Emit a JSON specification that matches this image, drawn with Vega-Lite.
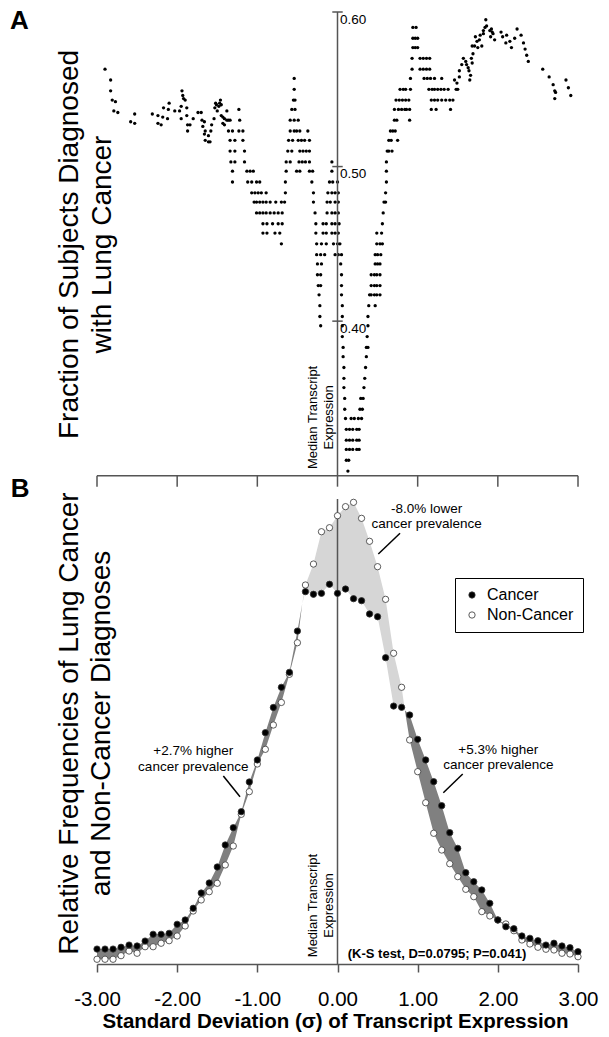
{
  "$schema": "https://vega.github.io/schema/vega-lite/v6.json",
  "width": 481,
  "height": 952,
  "autosize": {"type": "none"},
  "padding": {"left": 97, "top": 12, "right": 31, "bottom": 73},
  "background": "white",
  "config": {
    "font": "Liberation Sans",
    "view": {"stroke": null},
    "axis": {"grid": false}
  },
  "datasets": {
    "A": [
      {"x":-2.90,"f":0.563},{"x":-2.83,"f":0.556},{"x":-2.83,"f":0.549},{"x":-2.81,"f":0.543},{"x":-2.77,"f":0.542},{"x":-2.79,"f":0.536},{"x":-2.74,"f":0.535},{"x":-2.58,"f":0.529},{"x":-2.53,"f":0.528},{"x":-2.53,"f":0.534},
      {"x":-2.31,"f":0.534},{"x":-2.24,"f":0.533},{"x":-2.18,"f":0.532},{"x":-2.12,"f":0.531},{"x":-2.24,"f":0.528},{"x":-2.20,"f":0.527},{"x":-2.17,"f":0.538},{"x":-2.11,"f":0.537},{"x":-2.10,"f":0.541},{"x":-2.03,"f":0.536},
      {"x":-1.97,"f":0.536},{"x":-1.95,"f":0.539},{"x":-1.94,"f":0.549},{"x":-1.93,"f":0.546},{"x":-1.92,"f":0.544},{"x":-1.90,"f":0.543},{"x":-1.95,"f":0.531},{"x":-1.88,"f":0.533},{"x":-1.88,"f":0.538},{"x":-1.87,"f":0.527},
      {"x":-1.84,"f":0.527},{"x":-1.87,"f":0.523},{"x":-1.80,"f":0.531},{"x":-1.74,"f":0.535},{"x":-1.70,"f":0.535},{"x":-1.69,"f":0.530},{"x":-1.66,"f":0.529},{"x":-1.68,"f":0.526},{"x":-1.65,"f":0.523},{"x":-1.66,"f":0.521},
      {"x":-1.61,"f":0.520},{"x":-1.65,"f":0.517},{"x":-1.61,"f":0.516},{"x":-1.59,"f":0.516},{"x":-1.57,"f":0.527},{"x":-1.58,"f":0.523},{"x":-1.54,"f":0.531},{"x":-1.53,"f":0.538},{"x":-1.52,"f":0.541},{"x":-1.51,"f":0.540},
      {"x":-1.48,"f":0.539},{"x":-1.50,"f":0.536},{"x":-1.46,"f":0.543},{"x":-1.47,"f":0.541},{"x":-1.45,"f":0.540},{"x":-1.45,"f":0.533},{"x":-1.43,"f":0.532},{"x":-1.41,"f":0.531},{"x":-1.38,"f":0.530},{"x":-1.36,"f":0.530},
      {"x":-1.43,"f":0.528},{"x":-1.41,"f":0.527},{"x":-1.38,"f":0.536},
      {"x":-1.23,"f":0.537},
      {"x":-1.34,"f":0.530},{"x":-1.22,"f":0.530},
      {"x":-1.36,"f":0.523},{"x":-1.31,"f":0.523},{"x":-1.23,"f":0.523},{"x":-1.18,"f":0.523},
      {"x":-1.34,"f":0.517},{"x":-1.28,"f":0.517},{"x":-1.18,"f":0.517},
      {"x":-1.34,"f":0.510},{"x":-1.28,"f":0.510},{"x":-1.16,"f":0.510},
      {"x":-1.33,"f":0.503},{"x":-1.28,"f":0.503},{"x":-1.16,"f":0.503},
      {"x":-1.31,"f":0.497},{"x":-1.13,"f":0.497},{"x":-1.09,"f":0.497},{"x":-1.05,"f":0.497},
      {"x":-1.31,"f":0.490},{"x":-1.12,"f":0.490},{"x":-1.07,"f":0.490},{"x":-1.01,"f":0.490},{"x":-0.97,"f":0.490},
      {"x":-1.07,"f":0.483},{"x":-1.03,"f":0.483},{"x":-0.99,"f":0.483},{"x":-0.95,"f":0.483},{"x":-0.89,"f":0.483},
      {"x":-1.04,"f":0.477},{"x":-1.01,"f":0.477},{"x":-0.97,"f":0.477},{"x":-0.93,"f":0.477},{"x":-0.89,"f":0.477},{"x":-0.84,"f":0.477},{"x":-0.77,"f":0.477},{"x":-0.70,"f":0.477},{"x":-0.66,"f":0.477},
      {"x":-1.01,"f":0.470},{"x":-0.97,"f":0.470},{"x":-0.93,"f":0.470},{"x":-0.89,"f":0.470},{"x":-0.84,"f":0.470},{"x":-0.79,"f":0.470},{"x":-0.74,"f":0.470},{"x":-0.69,"f":0.470},
      {"x":-0.93,"f":0.463},{"x":-0.88,"f":0.463},{"x":-0.81,"f":0.463},{"x":-0.74,"f":0.463},{"x":-0.69,"f":0.463},
      {"x":-0.93,"f":0.457},{"x":-0.88,"f":0.457},{"x":-0.78,"f":0.457},{"x":-0.72,"f":0.457},
      {"x":-0.70,"f":0.450},
      {"x":-0.54,"f":0.557},{"x":-0.54,"f":0.550},{"x":-0.55,"f":0.543},{"x":-0.53,"f":0.543},{"x":-0.57,"f":0.537},{"x":-0.53,"f":0.537},
      {"x":-0.59,"f":0.530},{"x":-0.54,"f":0.530},{"x":-0.49,"f":0.530},
      {"x":-0.59,"f":0.523},{"x":-0.54,"f":0.523},{"x":-0.51,"f":0.523},{"x":-0.47,"f":0.523},{"x":-0.37,"f":0.523},
      {"x":-0.61,"f":0.517},{"x":-0.56,"f":0.517},{"x":-0.49,"f":0.517},{"x":-0.45,"f":0.517},{"x":-0.41,"f":0.517},{"x":-0.35,"f":0.517},
      {"x":-0.62,"f":0.510},{"x":-0.57,"f":0.510},{"x":-0.47,"f":0.510},{"x":-0.43,"f":0.510},{"x":-0.39,"f":0.510},{"x":-0.35,"f":0.510},
      {"x":-0.64,"f":0.503},{"x":-0.59,"f":0.503},{"x":-0.48,"f":0.503},{"x":-0.44,"f":0.503},{"x":-0.40,"f":0.503},{"x":-0.35,"f":0.503},
      {"x":-0.64,"f":0.497},{"x":-0.51,"f":0.497},{"x":-0.47,"f":0.497},{"x":-0.35,"f":0.497},{"x":-0.31,"f":0.497},
      {"x":-0.65,"f":0.490},{"x":-0.32,"f":0.490},{"x":-0.65,"f":0.483},{"x":-0.30,"f":0.483},{"x":-0.30,"f":0.477},{"x":-0.28,"f":0.470},
      {"x":-0.27,"f":0.463},{"x":-0.18,"f":0.463},{"x":-0.14,"f":0.463},
      {"x":-0.27,"f":0.457},{"x":-0.18,"f":0.457},{"x":-0.14,"f":0.457},
      {"x":-0.26,"f":0.450},{"x":-0.20,"f":0.450},{"x":-0.14,"f":0.450},
      {"x":-0.26,"f":0.443},{"x":-0.21,"f":0.443},{"x":-0.16,"f":0.443},
      {"x":-0.25,"f":0.437},{"x":-0.20,"f":0.437},{"x":-0.25,"f":0.430},{"x":-0.21,"f":0.430},{"x":-0.24,"f":0.423},{"x":-0.21,"f":0.423},
      {"x":-0.23,"f":0.417},{"x":-0.22,"f":0.410},{"x":-0.22,"f":0.403},{"x":-0.21,"f":0.397},
      {"x":-0.07,"f":0.503},{"x":-0.07,"f":0.497},
      {"x":-0.10,"f":0.490},{"x":-0.06,"f":0.490},{"x":0.00,"f":0.490},
      {"x":-0.12,"f":0.483},{"x":-0.07,"f":0.483},{"x":-0.03,"f":0.483},{"x":0.01,"f":0.483},
      {"x":-0.13,"f":0.477},{"x":-0.09,"f":0.477},{"x":-0.03,"f":0.477},{"x":0.01,"f":0.477},
      {"x":-0.13,"f":0.470},{"x":-0.07,"f":0.470},{"x":-0.03,"f":0.470},{"x":0.01,"f":0.470},
      {"x":-0.07,"f":0.463},{"x":-0.03,"f":0.463},{"x":0.02,"f":0.463},
      {"x":-0.07,"f":0.457},{"x":-0.03,"f":0.457},{"x":0.01,"f":0.457},
      {"x":-0.05,"f":0.450},{"x":0.00,"f":0.450},{"x":0.03,"f":0.450},
      {"x":-0.03,"f":0.443},{"x":0.01,"f":0.443},{"x":0.05,"f":0.443},
      {"x":0.04,"f":0.437},
      {"x":0.05,"f":0.430},{"x":0.05,"f":0.423},{"x":0.05,"f":0.417},{"x":0.06,"f":0.410},{"x":0.06,"f":0.403},{"x":0.06,"f":0.397},{"x":0.06,"f":0.390},
      {"x":0.07,"f":0.383},{"x":0.07,"f":0.377},{"x":0.08,"f":0.370},{"x":0.08,"f":0.363},{"x":0.08,"f":0.357},{"x":0.09,"f":0.350},{"x":0.09,"f":0.343},
      {"x":0.10,"f":0.337},{"x":0.17,"f":0.337},{"x":0.21,"f":0.337},{"x":0.26,"f":0.337},{"x":0.30,"f":0.337},
      {"x":0.11,"f":0.330},{"x":0.15,"f":0.330},{"x":0.19,"f":0.330},{"x":0.24,"f":0.330},{"x":0.27,"f":0.330},
      {"x":0.11,"f":0.323},{"x":0.15,"f":0.323},{"x":0.19,"f":0.323},{"x":0.24,"f":0.323},{"x":0.27,"f":0.323},
      {"x":0.11,"f":0.317},{"x":0.15,"f":0.317},{"x":0.19,"f":0.317},{"x":0.24,"f":0.317},{"x":0.27,"f":0.317},
      {"x":0.11,"f":0.310},{"x":0.14,"f":0.310},{"x":0.13,"f":0.303},
      {"x":0.28,"f":0.343},{"x":0.31,"f":0.343},{"x":0.29,"f":0.350},{"x":0.32,"f":0.350},
      {"x":0.33,"f":0.357},{"x":0.34,"f":0.363},{"x":0.35,"f":0.370},{"x":0.36,"f":0.377},{"x":0.36,"f":0.383},{"x":0.38,"f":0.383},
      {"x":0.37,"f":0.390},{"x":0.38,"f":0.397},{"x":0.38,"f":0.403},{"x":0.39,"f":0.410},{"x":0.47,"f":0.410},
      {"x":0.40,"f":0.417},{"x":0.42,"f":0.417},{"x":0.46,"f":0.417},{"x":0.49,"f":0.417},{"x":0.53,"f":0.417},
      {"x":0.42,"f":0.423},{"x":0.46,"f":0.423},{"x":0.49,"f":0.423},{"x":0.53,"f":0.423},
      {"x":0.42,"f":0.430},{"x":0.46,"f":0.430},{"x":0.49,"f":0.430},{"x":0.53,"f":0.430},
      {"x":0.47,"f":0.437},{"x":0.50,"f":0.437},{"x":0.53,"f":0.437},
      {"x":0.47,"f":0.443},{"x":0.50,"f":0.443},{"x":0.54,"f":0.443},
      {"x":0.49,"f":0.450},{"x":0.53,"f":0.450},{"x":0.56,"f":0.450},
      {"x":0.49,"f":0.457},{"x":0.55,"f":0.457},{"x":0.56,"f":0.463},{"x":0.57,"f":0.470},{"x":0.58,"f":0.477},{"x":0.60,"f":0.477},
      {"x":0.60,"f":0.483},{"x":0.61,"f":0.490},{"x":0.61,"f":0.497},{"x":0.61,"f":0.503},
      {"x":0.62,"f":0.510},{"x":0.64,"f":0.510},{"x":0.68,"f":0.510},
      {"x":0.64,"f":0.517},{"x":0.67,"f":0.517},{"x":0.75,"f":0.517},
      {"x":0.66,"f":0.523},{"x":0.69,"f":0.523},{"x":0.72,"f":0.523},
      {"x":0.71,"f":0.530},{"x":0.74,"f":0.530},{"x":0.90,"f":0.530},
      {"x":0.71,"f":0.537},{"x":0.76,"f":0.537},{"x":0.80,"f":0.537},{"x":0.84,"f":0.537},{"x":0.86,"f":0.537},{"x":0.90,"f":0.537},{"x":1.17,"f":0.537},{"x":1.23,"f":0.537},{"x":1.41,"f":0.537},
      {"x":0.73,"f":0.543},{"x":0.77,"f":0.543},{"x":0.81,"f":0.543},{"x":0.85,"f":0.543},{"x":0.89,"f":0.543},{"x":1.17,"f":0.543},{"x":1.21,"f":0.543},{"x":1.25,"f":0.543},{"x":1.30,"f":0.543},{"x":1.35,"f":0.543},{"x":1.40,"f":0.543},{"x":1.44,"f":0.543},
      {"x":0.78,"f":0.550},{"x":0.82,"f":0.550},{"x":0.85,"f":0.550},{"x":0.91,"f":0.550},{"x":1.14,"f":0.550},{"x":1.18,"f":0.550},{"x":1.21,"f":0.550},{"x":1.25,"f":0.550},{"x":1.29,"f":0.550},{"x":1.33,"f":0.550},{"x":1.38,"f":0.550},
      {"x":0.91,"f":0.557},{"x":1.08,"f":0.557},{"x":1.12,"f":0.557},{"x":1.16,"f":0.557},{"x":1.21,"f":0.557},{"x":1.30,"f":0.557},
      {"x":0.93,"f":0.563},{"x":1.03,"f":0.563},{"x":1.07,"f":0.563},{"x":1.11,"f":0.563},{"x":1.15,"f":0.563},
      {"x":0.93,"f":0.570},{"x":1.03,"f":0.570},{"x":1.07,"f":0.570},{"x":1.11,"f":0.570},{"x":1.15,"f":0.570},
      {"x":0.94,"f":0.577},{"x":0.97,"f":0.577},{"x":1.00,"f":0.577},
      {"x":0.94,"f":0.583},{"x":0.97,"f":0.583},{"x":1.00,"f":0.583},
      {"x":0.94,"f":0.590},{"x":0.98,"f":0.590},
      {"x":1.46,"f":0.556},{"x":1.49,"f":0.554},{"x":1.52,"f":0.558},{"x":1.50,"f":0.550},{"x":1.48,"f":0.550},{"x":1.52,"f":0.562},{"x":1.55,"f":0.566},{"x":1.57,"f":0.570},{"x":1.60,"f":0.568},{"x":1.61,"f":0.566},
      {"x":1.63,"f":0.564},{"x":1.64,"f":0.562},{"x":1.66,"f":0.559},{"x":1.65,"f":0.556},{"x":1.67,"f":0.570},{"x":1.68,"f":0.567},{"x":1.69,"f":0.573},{"x":1.68,"f":0.578},{"x":1.71,"f":0.578},{"x":1.72,"f":0.584},
      {"x":1.74,"f":0.581},{"x":1.75,"f":0.577},{"x":1.77,"f":0.582},{"x":1.80,"f":0.578},{"x":1.78,"f":0.585},{"x":1.82,"f":0.588},{"x":1.82,"f":0.586},{"x":1.84,"f":0.590},{"x":1.85,"f":0.595},{"x":1.86,"f":0.591},
      {"x":1.90,"f":0.588},{"x":1.92,"f":0.589},{"x":1.93,"f":0.587},{"x":1.96,"f":0.582},{"x":1.91,"f":0.584},{"x":1.94,"f":0.586},{"x":2.04,"f":0.587},{"x":2.06,"f":0.584},{"x":2.11,"f":0.585},{"x":2.10,"f":0.580},
      {"x":2.15,"f":0.581},{"x":2.17,"f":0.577},{"x":2.21,"f":0.583},{"x":2.24,"f":0.589},{"x":2.29,"f":0.585},{"x":2.32,"f":0.580},{"x":2.34,"f":0.576},{"x":2.36,"f":0.572},{"x":2.38,"f":0.568},{"x":2.56,"f":0.563},
      {"x":2.64,"f":0.558},{"x":2.69,"f":0.553},{"x":2.71,"f":0.549},{"x":2.72,"f":0.548},{"x":2.71,"f":0.544},{"x":2.85,"f":0.556},{"x":2.88,"f":0.551},{"x":2.91,"f":0.546}
    ],
    "B": [
      {"x":-3.0,"Cancer":0.142,"Non-Cancer":0.045},{"x":-2.9,"Cancer":0.142,"Non-Cancer":0.045},{"x":-2.8,"Cancer":0.142,"Non-Cancer":0.045},
      {"x":-2.7,"Cancer":0.159,"Non-Cancer":0.079},{"x":-2.6,"Cancer":0.180,"Non-Cancer":0.123},{"x":-2.5,"Cancer":0.171,"Non-Cancer":0.102},
      {"x":-2.4,"Cancer":0.218,"Non-Cancer":0.164},{"x":-2.3,"Cancer":0.282,"Non-Cancer":0.164},{"x":-2.2,"Cancer":0.282,"Non-Cancer":0.197},
      {"x":-2.1,"Cancer":0.291,"Non-Cancer":0.221},{"x":-2.0,"Cancer":0.377,"Non-Cancer":0.266},{"x":-1.9,"Cancer":0.418,"Non-Cancer":0.361},
      {"x":-1.8,"Cancer":0.529,"Non-Cancer":0.503},{"x":-1.7,"Cancer":0.674,"Non-Cancer":0.608},{"x":-1.6,"Cancer":0.769,"Non-Cancer":0.686},
      {"x":-1.5,"Cancer":0.921,"Non-Cancer":0.766},{"x":-1.4,"Cancer":1.130,"Non-Cancer":0.940},{"x":-1.3,"Cancer":1.294,"Non-Cancer":1.120},
      {"x":-1.2,"Cancer":1.446,"Non-Cancer":1.421},{"x":-1.1,"Cancer":1.728,"Non-Cancer":1.636},{"x":-1.0,"Cancer":1.937,"Non-Cancer":1.899},
      {"x":-0.9,"Cancer":2.196,"Non-Cancer":2.038},{"x":-0.8,"Cancer":2.435,"Non-Cancer":2.269},{"x":-0.7,"Cancer":2.627,"Non-Cancer":2.483},
      {"x":-0.6,"Cancer":2.769,"Non-Cancer":2.750},{"x":-0.5,"Cancer":3.161,"Non-Cancer":3.050},{"x":-0.4,"Cancer":3.535,"Non-Cancer":3.598},
      {"x":-0.3,"Cancer":3.510,"Non-Cancer":3.797},{"x":-0.2,"Cancer":3.519,"Non-Cancer":4.104},{"x":-0.1,"Cancer":3.605,"Non-Cancer":4.142},
      {"x":0.0,"Cancer":3.519,"Non-Cancer":4.256},{"x":0.1,"Cancer":3.560,"Non-Cancer":4.342},{"x":0.2,"Cancer":3.468,"Non-Cancer":4.383},
      {"x":0.3,"Cancer":3.449,"Non-Cancer":4.231},{"x":0.4,"Cancer":3.323,"Non-Cancer":4.013},{"x":0.5,"Cancer":3.297,"Non-Cancer":3.772},
      {"x":0.6,"Cancer":2.908,"Non-Cancer":3.462},{"x":0.7,"Cancer":2.449,"Non-Cancer":2.950},{"x":0.8,"Cancer":2.437,"Non-Cancer":2.627},
      {"x":0.9,"Cancer":2.364,"Non-Cancer":2.127},{"x":1.0,"Cancer":2.133,"Non-Cancer":1.826},{"x":1.1,"Cancer":1.937,"Non-Cancer":1.531},
      {"x":1.2,"Cancer":1.731,"Non-Cancer":1.241},{"x":1.3,"Cancer":1.503,"Non-Cancer":1.082},{"x":1.4,"Cancer":1.247,"Non-Cancer":0.952},
      {"x":1.5,"Cancer":1.098,"Non-Cancer":0.829},{"x":1.6,"Cancer":0.867,"Non-Cancer":0.709},{"x":1.7,"Cancer":0.781,"Non-Cancer":0.639},
      {"x":1.8,"Cancer":0.703,"Non-Cancer":0.497},{"x":1.9,"Cancer":0.576,"Non-Cancer":0.456},{"x":2.0,"Cancer":0.418,"Non-Cancer":0.418},
      {"x":2.1,"Cancer":0.354,"Non-Cancer":0.380},{"x":2.2,"Cancer":0.335,"Non-Cancer":0.316},{"x":2.3,"Cancer":0.266,"Non-Cancer":0.228},
      {"x":2.4,"Cancer":0.244,"Non-Cancer":0.190},{"x":2.5,"Cancer":0.221,"Non-Cancer":0.159},{"x":2.6,"Cancer":0.180,"Non-Cancer":0.140},
      {"x":2.7,"Cancer":0.197,"Non-Cancer":0.133},{"x":2.8,"Cancer":0.171,"Non-Cancer":0.102},{"x":2.9,"Cancer":0.155,"Non-Cancer":0.095},
      {"x":3.0,"Cancer":0.117,"Non-Cancer":0.069}
    ],
    "band": [
      {"x":-3.0,"lo":0.045,"hi":0.142,"p":"L"},{"x":-2.9,"lo":0.045,"hi":0.142,"p":"L"},{"x":-2.8,"lo":0.045,"hi":0.142,"p":"L"},
      {"x":-2.7,"lo":0.079,"hi":0.159,"p":"L"},{"x":-2.6,"lo":0.123,"hi":0.180,"p":"L"},{"x":-2.5,"lo":0.102,"hi":0.171,"p":"L"},
      {"x":-2.4,"lo":0.164,"hi":0.218,"p":"L"},{"x":-2.3,"lo":0.164,"hi":0.282,"p":"L"},{"x":-2.2,"lo":0.197,"hi":0.282,"p":"L"},
      {"x":-2.1,"lo":0.221,"hi":0.291,"p":"L"},{"x":-2.0,"lo":0.266,"hi":0.377,"p":"L"},{"x":-1.9,"lo":0.361,"hi":0.418,"p":"L"},
      {"x":-1.8,"lo":0.503,"hi":0.529,"p":"L"},{"x":-1.7,"lo":0.608,"hi":0.674,"p":"L"},{"x":-1.6,"lo":0.686,"hi":0.769,"p":"L"},
      {"x":-1.5,"lo":0.766,"hi":0.921,"p":"L"},{"x":-1.4,"lo":0.940,"hi":1.130,"p":"L"},{"x":-1.3,"lo":1.120,"hi":1.294,"p":"L"},
      {"x":-1.2,"lo":1.421,"hi":1.446,"p":"L"},{"x":-1.1,"lo":1.636,"hi":1.728,"p":"L"},{"x":-1.0,"lo":1.899,"hi":1.937,"p":"L"},
      {"x":-0.9,"lo":2.038,"hi":2.196,"p":"L"},{"x":-0.8,"lo":2.269,"hi":2.435,"p":"L"},{"x":-0.7,"lo":2.483,"hi":2.627,"p":"L"},
      {"x":-0.6,"lo":2.750,"hi":2.769,"p":"L"},{"x":-0.5,"lo":3.050,"hi":3.161,"p":"L"},{"x":-0.44,"lo":3.42,"hi":3.42,"p":"L"},
      {"x":-0.44,"lo":3.42,"hi":3.42,"p":"M"},{"x":-0.4,"lo":3.535,"hi":3.598,"p":"M"},{"x":-0.3,"lo":3.510,"hi":3.797,"p":"M"},
      {"x":-0.2,"lo":3.519,"hi":4.104,"p":"M"},{"x":-0.1,"lo":3.605,"hi":4.142,"p":"M"},{"x":0.0,"lo":3.519,"hi":4.256,"p":"M"},
      {"x":0.1,"lo":3.560,"hi":4.342,"p":"M"},{"x":0.2,"lo":3.468,"hi":4.383,"p":"M"},{"x":0.3,"lo":3.449,"hi":4.231,"p":"M"},
      {"x":0.4,"lo":3.323,"hi":4.013,"p":"M"},{"x":0.5,"lo":3.297,"hi":3.772,"p":"M"},{"x":0.6,"lo":2.908,"hi":3.462,"p":"M"},
      {"x":0.7,"lo":2.449,"hi":2.950,"p":"M"},{"x":0.8,"lo":2.437,"hi":2.627,"p":"M"},{"x":0.84,"lo":2.41,"hi":2.41,"p":"M"},
      {"x":0.84,"lo":2.41,"hi":2.41,"p":"R"},{"x":0.9,"lo":2.127,"hi":2.364,"p":"R"},{"x":1.0,"lo":1.826,"hi":2.133,"p":"R"},
      {"x":1.1,"lo":1.531,"hi":1.937,"p":"R"},{"x":1.2,"lo":1.241,"hi":1.731,"p":"R"},{"x":1.3,"lo":1.082,"hi":1.503,"p":"R"},
      {"x":1.4,"lo":0.952,"hi":1.247,"p":"R"},{"x":1.5,"lo":0.829,"hi":1.098,"p":"R"},{"x":1.6,"lo":0.709,"hi":0.867,"p":"R"},
      {"x":1.7,"lo":0.639,"hi":0.781,"p":"R"},{"x":1.8,"lo":0.497,"hi":0.703,"p":"R"},{"x":1.9,"lo":0.456,"hi":0.576,"p":"R"},
      {"x":2.0,"lo":0.418,"hi":0.418,"p":"R"},{"x":2.1,"lo":0.354,"hi":0.380,"p":"R"},{"x":2.2,"lo":0.316,"hi":0.335,"p":"R"},
      {"x":2.3,"lo":0.228,"hi":0.266,"p":"R"},{"x":2.4,"lo":0.190,"hi":0.244,"p":"R"},{"x":2.5,"lo":0.159,"hi":0.221,"p":"R"},
      {"x":2.6,"lo":0.140,"hi":0.180,"p":"R"},{"x":2.7,"lo":0.133,"hi":0.197,"p":"R"},{"x":2.8,"lo":0.102,"hi":0.171,"p":"R"},
      {"x":2.9,"lo":0.095,"hi":0.155,"p":"R"},{"x":3.0,"lo":0.069,"hi":0.117,"p":"R"}
    ],
    "ticks": [{"t":-3},{"t":-2},{"t":-1},{"t":0},{"t":1},{"t":2},{"t":3}],
    "yticks": [{"v":0.4},{"v":0.5},{"v":0.6}]
  },
  "layer": [
    {
      "layer": [
        {
          "data": {"name": "A"},
          "mark": {"type": "circle", "size": 11, "color": "black", "opacity": 1},
          "encoding": {
            "x": {"field": "x", "type": "quantitative", "scale": {"domain": [-3, 3], "nice": false, "zero": false},
              "axis": {"orient": "bottom", "values": [-3, -2, -1, 0, 1, 2, 3], "format": ".2f",
                "labelExpr": "replace(datum.label, '−', '-')",
                "domainColor": "#555555", "domainWidth": 1.5, "tickColor": "#555555", "tickWidth": 1.5, "tickSize": 8,
                "labelFont": "Liberation Sans", "labelFontSize": 20.5, "labelColor": "black", "labelPadding": 17,
                "labelFlush": false, "labelOverlap": false,
                "title": "Standard Deviation (σ) of Transcript Expression", "titleFont": "Liberation Sans",
                "titleFontSize": 20.5, "titleFontWeight": "bold", "titleColor": "black",
                "titleX": 238, "titleY": 63.5, "titleAlign": "center", "titleBaseline": "alphabetic"}},
            "y": {"field": "f", "type": "quantitative", "scale": {"domain": [-0.0159, 0.6], "nice": false, "zero": false},
              "axis": {"orient": "right", "offset": -240.5, "domain": false, "ticks": false, "values": [0.4, 0.5, 0.6], "format": ".2f",
                "labelFontSize": 13.5, "labelColor": "black", "labelBaseline": "top", "labelAlign": "left", "labelPadding": 2,
                "title": ["Fraction of Subjects Diagnosed", "with Lung Cancer"], "titleX": -268, "titleY": 232,
                "titleAngle": 270, "titleAlign": "center", "titleBaseline": "middle", "titleFontSize": 28,
                "titleFontWeight": "normal", "titleColor": "black", "titleLineHeight": 33}}
          }
        },
        {
          "data": {"values": [{}]},
          "mark": {"type": "rule", "color": "#555555", "strokeWidth": 1.5},
          "encoding": {
            "x": {"datum": 0, "type": "quantitative", "scale": {"domain": [-3, 3], "nice": false, "zero": false}},
            "y": {"datum": 0.3, "type": "quantitative", "scale": {"domain": [-0.0159, 0.6], "nice": false, "zero": false}},
            "y2": {"datum": 0.6}
          }
        },
        {
          "data": {"values": [{}]},
          "mark": {"type": "rule", "color": "#555555", "strokeWidth": 1.5},
          "encoding": {
            "x": {"datum": -3, "type": "quantitative", "scale": {"domain": [-3, 3], "nice": false, "zero": false}},
            "x2": {"datum": 3},
            "y": {"datum": 0.3, "type": "quantitative", "scale": {"domain": [-0.0159, 0.6], "nice": false, "zero": false}}
          }
        },
        {
          "data": {"name": "ticks"},
          "mark": {"type": "rule", "color": "#555555", "strokeWidth": 1.5},
          "encoding": {
            "x": {"field": "t", "type": "quantitative", "scale": {"domain": [-3, 3], "nice": false, "zero": false}},
            "y": {"datum": 0.3, "type": "quantitative", "scale": {"domain": [-0.0159, 0.6], "nice": false, "zero": false}},
            "y2": {"datum": 0.2929}
          }
        },
        {
          "data": {"name": "yticks"},
          "mark": {"type": "rule", "color": "#555555", "strokeWidth": 1.5},
          "encoding": {
            "x": {"datum": -0.065, "type": "quantitative", "scale": {"domain": [-3, 3], "nice": false, "zero": false}},
            "x2": {"datum": 0.065},
            "y": {"field": "v", "type": "quantitative", "scale": {"domain": [-0.0159, 0.6], "nice": false, "zero": false}}
          }
        },
        {
          "data": {"values": [{}]},
          "mark": {"type": "text", "angle": 270, "align": "center", "baseline": "middle", "fontSize": 13, "lineHeight": 16, "color": "black",
            "text": ["Median Transcript", "Expression"]},
          "encoding": {
            "x": {"datum": -0.30, "type": "quantitative", "scale": {"domain": [-3, 3], "nice": false, "zero": false}},
            "y": {"datum": 0.3377, "type": "quantitative", "scale": {"domain": [-0.0159, 0.6], "nice": false, "zero": false}}
          }
        },
        {
          "data": {"values": [{}]},
          "mark": {"type": "text", "align": "center", "baseline": "middle", "fontSize": 26, "fontWeight": "bold", "color": "black", "text": "A"},
          "encoding": {
            "x": {"datum": -3.969, "type": "quantitative", "scale": {"domain": [-3, 3], "nice": false, "zero": false}},
            "y": {"datum": 0.5943, "type": "quantitative", "scale": {"domain": [-0.0159, 0.6], "nice": false, "zero": false}}
          }
        }
      ]
    },
    {
      "layer": [
        {
          "data": {"name": "band"},
          "mark": {"type": "area", "opacity": 1},
          "encoding": {
            "x": {"field": "x", "type": "quantitative", "scale": {"domain": [-3, 3], "nice": false, "zero": false}},
            "y": {"field": "hi", "type": "quantitative", "scale": {"domain": [0, 9.038], "nice": false, "zero": false},
              "axis": {"orient": "left", "domain": false, "ticks": false, "labels": false,
                "title": ["Relative Frequencies of Lung Cancer", "and Non-Cancer Diagnoses"], "titleX": -27.5, "titleY": 711,
                "titleAngle": 270, "titleAlign": "center", "titleBaseline": "middle", "titleFontSize": 28,
                "titleFontWeight": "normal", "titleColor": "black", "titleLineHeight": 32}},
            "y2": {"field": "lo"},
            "color": {"field": "p", "type": "nominal", "scale": {"domain": ["L", "M", "R"], "range": ["#808080", "#d6d6d6", "#808080"]}, "legend": null}
          }
        },
        {
          "data": {"values": [{}]},
          "mark": {"type": "rule", "color": "#555555", "strokeWidth": 1.5},
          "encoding": {
            "x": {"datum": 0, "type": "quantitative", "scale": {"domain": [-3, 3], "nice": false, "zero": false}},
            "y": {"datum": 0, "type": "quantitative", "scale": {"domain": [0, 9.038], "nice": false, "zero": false}},
            "y2": {"datum": 4.415}
          }
        },
        {
          "data": {"name": "B"},
          "transform": [{"fold": ["Non-Cancer", "Cancer"], "as": ["group", "freq"]}],
          "mark": {"type": "point", "shape": "circle", "filled": true, "size": 40, "stroke": "#333333", "strokeWidth": 0.8, "opacity": 1},
          "encoding": {
            "x": {"field": "x", "type": "quantitative", "scale": {"domain": [-3, 3], "nice": false, "zero": false}},
            "y": {"field": "freq", "type": "quantitative", "scale": {"domain": [0, 9.038], "nice": false, "zero": false}},
            "fill": {"field": "group", "type": "nominal", "scale": {"domain": ["Cancer", "Non-Cancer"], "range": ["black", "white"]},
              "legend": {"orient": "none", "legendX": 358, "legendY": 566, "title": null, "direction": "vertical",
                "strokeColor": "black", "fillColor": "white", "padding": 9,
                "labelFontSize": 16, "labelColor": "black", "labelOffset": 7, "rowPadding": 4,
                "symbolType": "circle", "symbolSize": 40, "symbolStrokeColor": "#333333", "symbolStrokeWidth": 0.8}}
          }
        },
        {
          "data": {"values": [{"x1": 0.780, "y1": 4.089, "x2": 0.509, "y2": 3.893}, {"x1": -1.424, "y1": 1.785, "x2": -1.216, "y2": 1.588}, {"x1": 1.562, "y1": 1.804, "x2": 1.320, "y2": 1.626}]},
          "mark": {"type": "rule", "color": "black", "strokeWidth": 1.5},
          "encoding": {
            "x": {"field": "x1", "type": "quantitative", "scale": {"domain": [-3, 3], "nice": false, "zero": false}},
            "x2": {"field": "x2"},
            "y": {"field": "y1", "type": "quantitative", "scale": {"domain": [0, 9.038], "nice": false, "zero": false}},
            "y2": {"field": "y2"}
          }
        },
        {
          "data": {"values": [{}]},
          "mark": {"type": "text", "align": "center", "baseline": "middle", "fontSize": 13.5, "lineHeight": 15.5, "color": "black",
            "text": ["-8.0% lower", "cancer prevalence"]},
          "encoding": {
            "x": {"datum": 1.113, "type": "quantitative", "scale": {"domain": [-3, 3], "nice": false, "zero": false}},
            "y": {"datum": 4.320, "type": "quantitative", "scale": {"domain": [0, 9.038], "nice": false, "zero": false}}
          }
        },
        {
          "data": {"values": [{}]},
          "mark": {"type": "text", "align": "center", "baseline": "middle", "fontSize": 13.5, "lineHeight": 15.5, "color": "black",
            "text": ["+2.7% higher", "cancer prevalence"]},
          "encoding": {
            "x": {"datum": -1.799, "type": "quantitative", "scale": {"domain": [-3, 3], "nice": false, "zero": false}},
            "y": {"datum": 2.022, "type": "quantitative", "scale": {"domain": [0, 9.038], "nice": false, "zero": false}}
          }
        },
        {
          "data": {"values": [{}]},
          "mark": {"type": "text", "align": "center", "baseline": "middle", "fontSize": 13.5, "lineHeight": 15.5, "color": "black",
            "text": ["+5.3% higher", "cancer prevalence"]},
          "encoding": {
            "x": {"datum": 2.006, "type": "quantitative", "scale": {"domain": [-3, 3], "nice": false, "zero": false}},
            "y": {"datum": 2.032, "type": "quantitative", "scale": {"domain": [0, 9.038], "nice": false, "zero": false}}
          }
        },
        {
          "data": {"values": [{}]},
          "mark": {"type": "text", "align": "center", "baseline": "middle", "fontSize": 13, "fontWeight": "bold", "color": "black",
            "text": "(K-S test, D=0.0795; P=0.041)"},
          "encoding": {
            "x": {"datum": 1.241, "type": "quantitative", "scale": {"domain": [-3, 3], "nice": false, "zero": false}},
            "y": {"datum": 0.092, "type": "quantitative", "scale": {"domain": [0, 9.038], "nice": false, "zero": false}}
          }
        },
        {
          "data": {"values": [{}]},
          "mark": {"type": "text", "angle": 270, "align": "center", "baseline": "middle", "fontSize": 13, "lineHeight": 16, "color": "black",
            "text": ["Median Transcript", "Expression"]},
          "encoding": {
            "x": {"datum": -0.30, "type": "quantitative", "scale": {"domain": [-3, 3], "nice": false, "zero": false}},
            "y": {"datum": 0.555, "type": "quantitative", "scale": {"domain": [0, 9.038], "nice": false, "zero": false}}
          }
        },
        {
          "data": {"values": [{}]},
          "mark": {"type": "text", "align": "center", "baseline": "middle", "fontSize": 26, "fontWeight": "bold", "color": "black", "text": "B"},
          "encoding": {
            "x": {"datum": -3.96, "type": "quantitative", "scale": {"domain": [-3, 3], "nice": false, "zero": false}},
            "y": {"datum": 4.514, "type": "quantitative", "scale": {"domain": [0, 9.038], "nice": false, "zero": false}}
          }
        }
      ]
    }
  ],
  "resolve": {"scale": {"y": "independent"}}
}
